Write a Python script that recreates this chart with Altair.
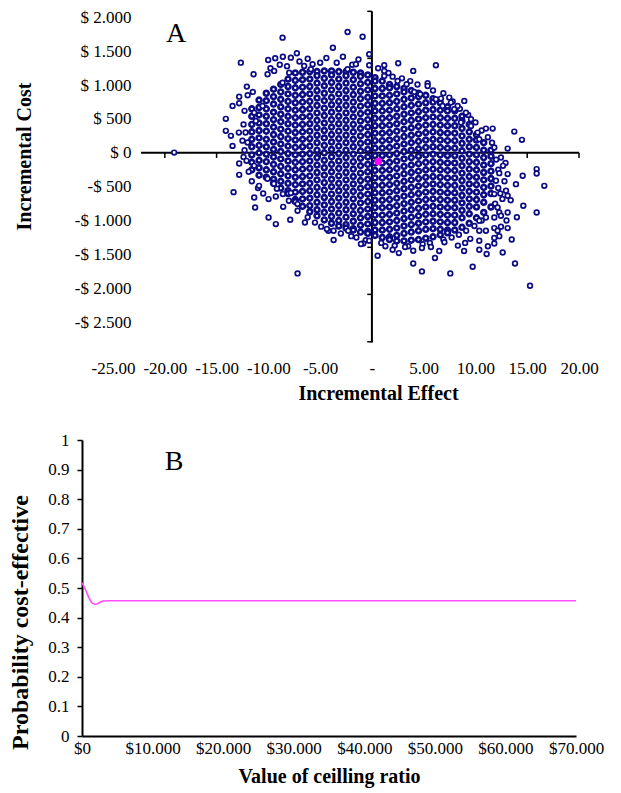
import altair as alt
import pandas as pd

# ---------------- Panel A: cost-effectiveness plane ----------------
# dense core of the cloud: columns of incremental effect with their incremental costs
CORE_EFFECT = [-11.6, -10.9, -10.2, -9.5, -8.8, -8.1, -7.4, -6.7, -6.0, -5.3, -4.6, -3.9,
               -3.2, -2.5, -1.8, -1.1, -0.4, 0.3, 1.0, 1.7, 2.4, 3.1, 3.8, 4.5, 5.2, 5.9,
               6.6, 7.3, 8.0, 8.7, 9.4, 10.1, 10.8, 11.5]
CORE_COST = [
    [650, 540, 420, 310, 200, 90, -30, -140, -250],
    [780, 670, 560, 440, 330, 220, 110, 0, -110, -220, -330],
    [880, 770, 650, 540, 430, 320, 200, 90, -20, -130, -250, -360],
    [940, 830, 720, 600, 490, 380, 270, 160, 50, -60, -170, -280, -390, -450],
    [1010, 900, 790, 680, 570, 460, 350, 240, 130, 20, -90, -200, -310, -420, -520],
    [1090, 980, 870, 760, 650, 540, 430, 320, 210, 100, -10, -120, -230, -340, -450, -560, -600],
    [1180, 1070, 960, 850, 740, 630, 520, 410, 300, 190, 80, -30, -140, -250, -360, -470, -580, -690, -720],
    [1190, 1080, 970, 860, 750, 640, 530, 420, 310, 200, 90, -20, -130, -240, -350, -460, -570, -680, -790],
    [1200, 1090, 980, 870, 760, 650, 540, 430, 320, 210, 100, -10, -120, -230, -340, -450, -560, -670, -780, -870],
    [1200, 1140, 1030, 920, 810, 700, 590, 480, 370, 260, 150, 40, -70, -180, -290, -400, -510, -620, -730, -840, -930],
    [1210, 1100, 990, 880, 770, 660, 550, 440, 330, 220, 110, 0, -110, -220, -330, -440, -550, -660, -770, -880, -990],
    [1210, 1150, 1040, 930, 820, 710, 600, 490, 380, 270, 160, 50, -60, -170, -280, -390, -500, -610, -720, -830, -940, -1040],
    [1200, 1090, 980, 870, 760, 650, 540, 430, 320, 210, 100, -10, -120, -230, -340, -450, -560, -670, -780, -890, -1000, -1080],
    [1200, 1140, 1030, 920, 810, 700, 590, 480, 370, 260, 150, 40, -70, -180, -290, -400, -510, -620, -730, -840, -950, -1060, -1110],
    [1190, 1080, 970, 860, 750, 640, 530, 420, 310, 200, 90, -20, -130, -240, -350, -460, -570, -680, -790, -900, -1010, -1120, -1140],
    [1180, 1130, 1020, 910, 800, 690, 580, 470, 360, 250, 140, 30, -80, -190, -300, -410, -520, -630, -740, -850, -960, -1070, -1170],
    [1150, 1040, 930, 820, 710, 600, 490, 380, 270, 160, 50, -60, -170, -280, -390, -500, -610, -720, -830, -940, -1050, -1160, -1190],
    [1110, 1060, 950, 840, 730, 620, 510, 400, 290, 180, 70, -40, -150, -260, -370, -480, -590, -700, -810, -920, -1030, -1140, -1220],
    [1060, 950, 840, 730, 620, 510, 400, 290, 180, 70, -40, -150, -260, -370, -480, -590, -700, -810, -920, -1030, -1140, -1250],
    [1010, 960, 850, 740, 630, 520, 410, 300, 190, 80, -30, -140, -250, -360, -470, -580, -690, -800, -910, -1020, -1130, -1240, -1280],
    [980, 870, 760, 650, 540, 430, 320, 210, 100, -10, -120, -230, -340, -450, -560, -670, -780, -890, -1000, -1110, -1220, -1300],
    [950, 900, 790, 680, 570, 460, 350, 240, 130, 20, -90, -200, -310, -420, -530, -640, -750, -860, -970, -1080, -1190, -1300],
    [920, 810, 700, 590, 480, 370, 260, 150, 40, -70, -180, -290, -400, -510, -620, -730, -840, -950, -1060, -1170, -1290],
    [880, 830, 720, 610, 500, 390, 280, 170, 60, -50, -160, -270, -380, -490, -600, -710, -820, -930, -1040, -1150, -1280],
    [850, 740, 630, 520, 410, 300, 190, 80, -30, -140, -250, -360, -470, -580, -690, -800, -910, -1020, -1130, -1260],
    [800, 750, 640, 530, 420, 310, 200, 90, -20, -130, -240, -350, -460, -570, -680, -790, -900, -1010, -1120, -1240],
    [740, 630, 520, 410, 300, 190, 80, -30, -140, -250, -360, -470, -580, -690, -800, -910, -1020, -1130, -1210],
    [680, 620, 510, 400, 290, 180, 70, -40, -150, -260, -370, -480, -590, -700, -810, -920, -1030, -1140, -1180],
    [620, 510, 400, 290, 180, 70, -40, -150, -260, -370, -480, -590, -700, -810, -920, -1030, -1140],
    [540, 470, 360, 250, 140, 30, -80, -190, -300, -410, -520, -630, -740, -850, -960, -1100],
    [420, 310, 200, 90, -20, -130, -240, -350, -460, -570, -680, -790, -900, -1040],
    [270, 190, 80, -30, -140, -250, -360, -470, -580, -690, -800, -960],
    [150, 40, -70, -180, -290, -400, -510, -620, -730, -880],
    [40, -50, -160, -270, -380, -490, -600, -800],
]

# ragged fringe points just outside the dense core
FRINGE_EFFECT = [
    -9.8, -8.9, -8.2, -7.0, -6.2, -5.0, -4.4, -3.4, -2.8, -1.9, -1.3, 0.6, 1.6, 2.9, 3.7,
    4.4, 5.9, 6.9, 7.8, 8.5, 9.3, 10.0, 10.6, 11.2,
    -12.3, -12.4, -12.2, -12.5, -12.3, -12.4, -11.9, -11.6, -11.0, -10.5, -12.0, -11.5,
    -6.2, -5.5, -4.9, -4.2, -3.0, -2.0, -1.5, -0.6, 0.9, 2.2, 3.5, 4.9, 5.6, 6.9, 7.7,
    8.4, 9.1, 9.9, 10.6,
    12.0, 12.2, 12.4, 11.9, 12.3, 12.9, 11.6,
]
FRINGE_COST = [
    1250, 1300, 1280, 1350, 1390, 1330, 1400, 1330, 1420, 1300, 1380, 1250, 1180, 1100, 1060,
    1010, 920, 880, 760, 650, 560, 450, 330, 230,
    620, 420, 300, 180, 40, -60, -280, -420, -520, -600, 850, 900,
    -950, -1030, -1090, -1150, -1190, -1230, -1250, -1290, -1330, -1370, -1380, -1350, -1330,
    -1280, -1250, -1210, -1150, -1080, -1000,
    -100, -250, -600, -750, -880, -150, 150,
]

# scattered points around the cloud
SPARSE_EFFECT = [
    -8.63, -2.35, -0.90, -3.77, -12.66, -10.02, -9.34, -8.60, -7.83, -7.25, -11.43, -12.08,
    -12.82, -13.46, -12.82, -14.11, -14.11, -13.62, -12.85, -12.01, -13.46, -19.10,
    -10.08, -9.44, -8.63, -7.99, -6.54, -5.73, -5.89, -2.35, -1.55, -0.26, -0.26,
    -11.37, -11.21, -10.56,
    1.19, 1.19, 2.54, 3.99, 6.18, 2.00, 5.38, 5.38, 3.35, 4.67, 6.67, 7.47, 8.92, 8.28,
    9.57, 11.01, 11.66, 13.75, 14.49, 13.11, 11.82,
    1.19, 2.48, 4.09, 6.18, 6.83, 7.63, 7.95, 9.08, 8.60, 9.57, 10.21, 10.37,
    -12.82, -12.11, -12.82, -13.36, -11.37, -11.28, -9.98, -9.28, -8.60, -7.83, -9.98,
    -9.28, -8.57, -7.89, -7.18, -7.18, -6.47, -7.18, -4.35, -3.70, -3.70, -2.29, -0.84,
    -0.26, -11.37, -10.08, -10.90, -9.47, -9.18, -8.02,
    12.46, 13.11, 14.56, 15.91, 15.91, 16.65, 13.91, 13.11, 14.62, 15.91, 13.11, 12.46,
    11.82, 11.01, 10.37, 13.11, 11.82, 12.46, 11.01, 10.37, 11.82, 11.82, 10.37, 10.37,
    11.08, 12.63, 13.82, 9.73, 7.57, 6.09, 4.83, 3.99, 3.99, 4.83, 2.00, 0.55, -1.06,
    15.27, 11.98, 12.14, 11.82, 12.14, 12.66, 12.95,
    12.30, 12.80, 12.20, 13.40, 12.60, 13.00, 14.00, 12.30, 13.50, 11.20, 9.00, 8.30,
    7.00, 5.70, 6.50, 3.20, 2.60, 1.30, 8.90, 9.50,
]
SPARSE_COST = [
    1701, 1785, 1715, 1553, 1332, 1372, 1397, 1420, 1406, 1471, 1161, 978,
    830, 693, 733, 502, 325, 251, 299, 152, 103, 4,
    1161, 1210, 1037, 1184, 1283, 1308, 1235, 1235, 1308, 1456, 1294,
    594, 472, 693,
    1294, 1210, 1323, 1210, 1294, 1125, 1028, 988, 1013, 866, 801, 816, 767, 693,
    497, 358, 358, 314, 192, 63, 78,
    1136, 1062, 900, 792, 693, 742, 645, 594, 447, 398, 299, 202,
    -158, -118, -325, -580, -659, -807, -683, -645, -609, -594, -954,
    -1052, -797, -988, -757, -856, -1028, -1780, -1125, -1151, -1288, -1151, -1338,
    -1298, -192, -384, -487, -457, -531, -708,
    -69, -314, -339, -240, -305, -487, -462, -634, -782, -881, -881, -929,
    -954, -954, -1003, -1111, -1111, -1092, -1151, -1151, -1258, -1338, -1298, -1431,
    -1494, -1471, -1633, -1682, -1780, -1553, -1751, -1633, -1446, -1406, -1431, -1519, -1347,
    -1962, -413, -807, -609, -1151, -192, -560,
    -300, -420, -520, -700, -680, -1000, -950, -1230, -1280, -1380, -1330, -1370,
    -1320, -1390, -1450, -1390, -1480, -1380, -1450, -1270,
]

MEAN_EFFECT = [0.61]
MEAN_COST = [-128]

X_LABELS_A = [-25, -20, -15, -10, -5, 0, 5, 10, 15, 20]
Y_LABELS_A = [2000, 1500, 1000, 500, 0, -500, -1000, -1500, -2000, -2500]
H_AXIS_SPAN = [-22.3, 20]          # horizontal axis line (effect)
H_AXIS_TICKS = [-20, -15, -10, -5, 0, 5, 10, 15, 20]
V_AXIS_SPAN = [2090, -2800]        # vertical axis line (cost)
V_AXIS_TICKS = [2090, 1395, 697, 0, -697, -1395, -2090, -2790]

# ---------------- Panel B: acceptability curve ----------------
CEAC_RATIO = [0, 500, 1000, 1500, 2000, 2500, 3000, 4000, 5000, 10000, 20000,
              30000, 40000, 50000, 60000, 70000]
CEAC_PROB = [0.518, 0.494, 0.466, 0.448, 0.445, 0.451, 0.456, 0.457, 0.457, 0.457,
             0.457, 0.457, 0.457, 0.457, 0.457, 0.457]
X_LABELS_B = [0, 10000, 20000, 30000, 40000, 50000, 60000, 70000]
Y_LABELS_B = [0, 0.1, 0.2, 0.3, 0.4, 0.5, 0.6, 0.7, 0.8, 0.9, 1.0]

FONT = "Liberation Serif"
NAVY = "#0c0c84"
NO_FRAME = alt.ViewBackground(stroke="transparent", strokeWidth=0, strokeOpacity=0)

# ---------- build tables ----------
core_rows = []
for e, costs in zip(CORE_EFFECT, CORE_COST):
    for c in costs:
        core_rows.append({"effect": e, "cost": c})
core_df = pd.DataFrame(core_rows)
sparse_df = pd.DataFrame({"effect": FRINGE_EFFECT + SPARSE_EFFECT,
                          "cost": FRINGE_COST + SPARSE_COST})
mean_df = pd.DataFrame({"effect": MEAN_EFFECT, "cost": MEAN_COST})

hline_df = pd.DataFrame({"effect": [H_AXIS_SPAN[0]], "effect2": [H_AXIS_SPAN[1]], "cost": [0]})
htick_df = pd.DataFrame({"effect": H_AXIS_TICKS, "cost": [0] * len(H_AXIS_TICKS),
                         "cost2": [-75] * len(H_AXIS_TICKS)})
vline_df = pd.DataFrame({"effect": [0], "cost": [V_AXIS_SPAN[0]], "cost2": [V_AXIS_SPAN[1]]})
vtick_df = pd.DataFrame({"effect": [-0.45] * len(V_AXIS_TICKS), "effect2": [0] * len(V_AXIS_TICKS),
                         "cost": V_AXIS_TICKS})
labA_df = pd.DataFrame({"effect": [-18.9], "cost": [1755], "t": ["A"]})

xs_a = alt.Scale(domain=[-28, 20], nice=False, zero=False)
ys_a = alt.Scale(domain=[-3000, 2080], nice=False, zero=False)

ax_xa = alt.Axis(
    values=X_LABELS_A,
    labelExpr="datum.value == 0 ? '-' : (datum.value < 0 ? '-' : '') + format(abs(datum.value), '.2f')",
    domain=False, ticks=False, grid=False, labelFlush=False, labelPadding=4,
    labelFontSize=17, labelFont=FONT, labelColor="black",
    title="Incremental Effect", titleFont=FONT, titleFontSize=20, titleFontWeight="bold",
    titleColor="black", titleX=296, titleY=27,
)
ax_ya = alt.Axis(
    values=Y_LABELS_A,
    labelExpr="datum.value == 0 ? '$ 0' : (datum.value < 0 ? '-' : '') + '$ ' + replace(format(abs(datum.value), ','), ',', '.')",
    domain=False, ticks=False, grid=False, labelFlush=False, labelPadding=-49,
    labelFontSize=17, labelFont=FONT, labelColor="black",
    title="Incremental Cost", titleFont=FONT, titleFontSize=20, titleFontWeight="bold",
    titleColor="black", titleX=-48, titleY=144,
)


def XA(f):
    return alt.X(f, type="quantitative", scale=xs_a, axis=ax_xa)


def YA(f):
    return alt.Y(f, type="quantitative", scale=ys_a, axis=ax_ya)


hline = alt.Chart(hline_df).mark_rule(color="black", strokeWidth=2).encode(
    x=XA("effect"), x2="effect2", y=YA("cost"))
hticks = alt.Chart(htick_df).mark_rule(color="black", strokeWidth=1.5).encode(
    x=XA("effect"), y=YA("cost"), y2="cost2")
vline = alt.Chart(vline_df).mark_rule(color="black", strokeWidth=2).encode(
    x=XA("effect"), y=YA("cost"), y2="cost2")
vticks = alt.Chart(vtick_df).mark_rule(color="black", strokeWidth=1.5).encode(
    x=XA("effect"), x2="effect2", y=YA("cost"))
core = alt.Chart(core_df).mark_point(
    shape="circle", size=24, filled=False, fill="white", fillOpacity=1,
    stroke=NAVY, strokeWidth=2.6, opacity=1
).encode(x=XA("effect"), y=YA("cost"))
sparse = alt.Chart(sparse_df).mark_point(
    shape="circle", size=22, filled=False, fill="white", fillOpacity=1,
    stroke=NAVY, strokeWidth=1.7, opacity=1
).encode(x=XA("effect"), y=YA("cost"))
meanpt = alt.Chart(mean_df).mark_point(
    shape="circle", size=55, filled=True, color="#ff00ff", opacity=1
).encode(x=XA("effect"), y=YA("cost"))
labA = alt.Chart(labA_df).mark_text(
    font=FONT, fontSize=28, color="black", align="center", baseline="middle"
).encode(x=XA("effect"), y=YA("cost"), text="t:N")

panelA = alt.layer(hline, hticks, vline, vticks, core, sparse, meanpt, labA).properties(
    width=497, height=344, view=NO_FRAME)

# ---------- Panel B ----------
ceac_df = pd.DataFrame({"ratio": CEAC_RATIO, "prob": CEAC_PROB})
labB_df = pd.DataFrame({"ratio": [13040], "prob": [0.926], "t": ["B"]})

xs_b = alt.Scale(domain=[0, 70000], nice=False, zero=False)
ys_b = alt.Scale(domain=[0, 1], nice=False, zero=False)
ax_xb = alt.Axis(
    values=X_LABELS_B,
    labelExpr="'$' + replace(format(datum.value, ','), ',', '.')",
    domain=True, domainColor="black", domainWidth=2, ticks=False, grid=False,
    labelFlush=False, labelPadding=4, labelFontSize=17, labelFont=FONT, labelColor="black",
    title="Value of ceilling ratio", titleFont=FONT, titleFontSize=20, titleFontWeight="bold",
    titleColor="black", titleX=247, titleY=30,
)
ax_yb = alt.Axis(
    values=Y_LABELS_B, format=".1~f",
    domain=True, domainColor="black", domainWidth=2, ticks=True, tickColor="black",
    tickWidth=1.5, tickSize=5, grid=False, labelFlush=False, labelPadding=8,
    labelFontSize=17, labelFont=FONT, labelColor="black",
    title="Probability cost-effective", titleFont=FONT, titleFontSize=24, titleFontWeight="bold",
    titleColor="black", titleX=-50, titleY=182,
)
line = alt.Chart(ceac_df).mark_line(color="#ff4dff", strokeWidth=1.6, interpolate="monotone").encode(
    x=alt.X("ratio", type="quantitative", scale=xs_b, axis=ax_xb),
    y=alt.Y("prob", type="quantitative", scale=ys_b, axis=ax_yb),
)
labB = alt.Chart(labB_df).mark_text(
    font=FONT, fontSize=28, color="black", align="center", baseline="middle"
).encode(
    x=alt.X("ratio", type="quantitative", scale=xs_b, axis=ax_xb),
    y=alt.Y("prob", type="quantitative", scale=ys_b, axis=ax_yb),
    text="t:N",
)
panelB = alt.layer(line, labB).properties(width=494, height=296, view=NO_FRAME)

chart = alt.vconcat(panelA, panelB, spacing=84, bounds="flush").properties(
    padding={"left": 0, "top": 0, "right": 5, "bottom": 5}
).configure_view(strokeWidth=0, stroke="transparent").configure(background="white")

chart.save("out.html", embed_options={"renderer": "svg", "actions": False})
